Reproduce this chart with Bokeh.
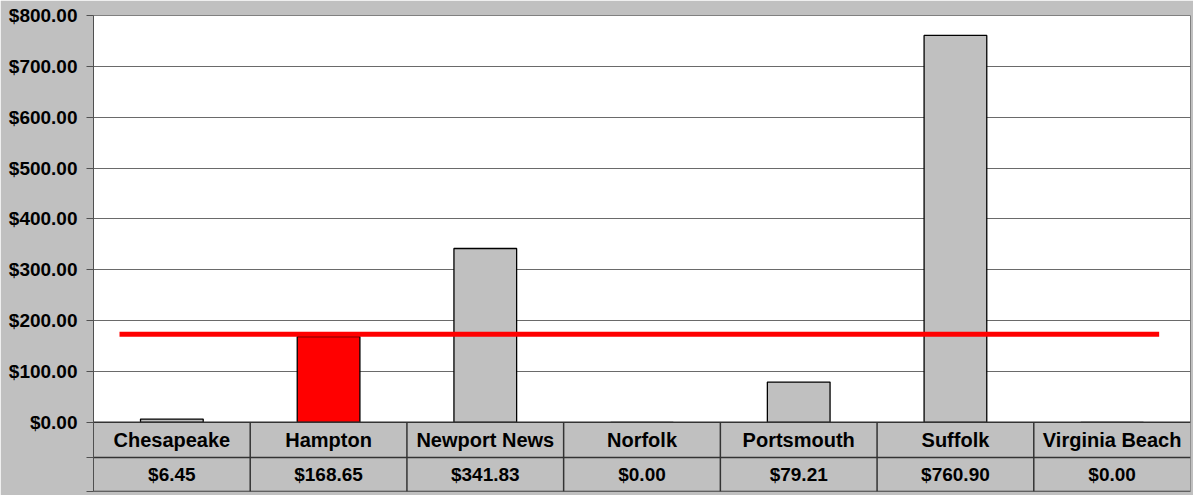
from bokeh.plotting import figure
from bokeh.models import Range1d, FactorRange, FixedTicker, ColumnDataSource, BoxAnnotation
from bokeh.core.properties import value
from bokeh.embed import file_html
from bokeh.resources import INLINE

# ---- data ----
cities = ["Chesapeake", "Hampton", "Newport News", "Norfolk", "Portsmouth", "Suffolk", "Virginia Beach"]
amounts = [6.45, 168.65, 341.83, 0.0, 79.21, 760.90, 0.0]
value_labels = ["$6.45", "$168.65", "$341.83", "$0.00", "$79.21", "$760.90", "$0.00"]
benchmark = 173.0
highlight = "Hampton"
y_ticks = [0, 100, 200, 300, 400, 500, 600, 700, 800]
y_tick_labels = ["$0.00", "$100.00", "$200.00", "$300.00", "$400.00",
                 "$500.00", "$600.00", "$700.00", "$800.00"]

# table rows drawn below zero (in data units of the y scale)
row_split = -69
table_bottom = -136

FONT = value("Liberation Sans")
GRAY = "#c0c0c0"
LINE = "#333333"

p = figure(width=1193, height=495,
           x_range=FactorRange(*cities, range_padding=0, factor_padding=0),
           y_range=Range1d(table_bottom, 800),
           output_backend="svg", toolbar_location=None,
           min_border_left=93, min_border_right=3, min_border_top=15, min_border_bottom=4)

p.background_fill_color = "white"
p.border_fill_color = GRAY
p.outline_line_color = "#808080"
p.outline_line_width = 1

# table background
p.add_layout(BoxAnnotation(top=0, bottom=table_bottom, fill_color=GRAY, fill_alpha=1,
                           line_color=None, level="underlay"))

# grid
p.xgrid.visible = False
p.ygrid.ticker = FixedTicker(ticks=y_ticks[1:])
p.ygrid.grid_line_color = "#6a6a6a"
p.ygrid.grid_line_width = 1

# axes
p.xaxis.visible = False
ax = p.yaxis[0]
ax.ticker = FixedTicker(ticks=[table_bottom, row_split] + y_ticks)
overrides = {table_bottom: "", row_split: ""}
overrides.update(dict(zip(y_ticks, y_tick_labels)))
ax.major_label_overrides = overrides
ax.axis_line_color = "#505050"
ax.axis_line_width = 1
ax.major_tick_line_color = "#505050"
ax.major_tick_out = 7
ax.major_tick_in = 0
ax.minor_tick_line_color = None
ax.major_label_text_font = "Liberation Sans"
ax.major_label_text_font_style = "bold"
ax.major_label_text_font_size = "19px"
ax.major_label_text_color = "black"
ax.major_label_standoff = 9

# bars
colors = ["#ff0000" if c == highlight else GRAY for c in cities]
src = ColumnDataSource(dict(x=cities, top=amounts, color=colors))
p.vbar(x="x", top="top", width=0.4, source=src, fill_color="color",
       line_color="black", line_width=1.3)

# benchmark line
bsrc = ColumnDataSource(dict(x=[(cities[0], -0.334), (cities[-1], 0.30)],
                             y=[benchmark, benchmark]))
p.line(x="x", y="y", source=bsrc, line_color="#ff0000", line_width=5)

# table lines
hsrc = ColumnDataSource(dict(
    x0=[(cities[0], -0.5)] * 3, x1=[(cities[-1], 0.5)] * 3,
    y=[0, row_split, table_bottom]))
p.segment(x0="x0", y0="y", x1="x1", y1="y", source=hsrc, line_color=LINE, line_width=1.5)
vsrc = ColumnDataSource(dict(x=[(c, 0.5) for c in cities[:-1]]))
p.segment(x0="x", y0=table_bottom, x1="x", y1=0, source=vsrc, line_color=LINE, line_width=1.5)

# table text
p.text(x=cities, y=[row_split / 2] * len(cities), text=cities,
       text_font=FONT, text_font_style="bold", text_font_size="20px",
       text_align="center", text_baseline="middle", text_color="black")
p.text(x=cities, y=[(row_split + table_bottom) / 2] * len(cities), text=value_labels,
       text_font=FONT, text_font_style="bold", text_font_size="19px",
       text_align="center", text_baseline="middle", text_color="black")

open("out.html", "w").write(file_html(p, INLINE))
